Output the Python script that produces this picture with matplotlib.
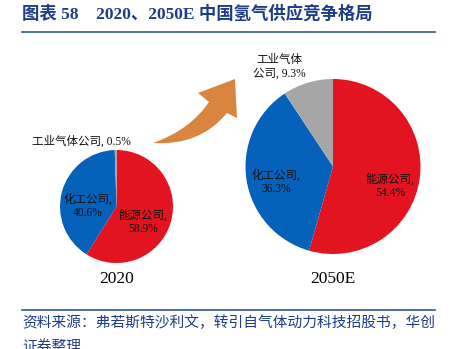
import numpy as np
import matplotlib.pyplot as plt
from matplotlib.path import Path
from matplotlib.patches import PathPatch

# -------------------------
# Datos (participacion % por tipo de empresa)
# -------------------------
categorias = ['能源公司', '化工公司', '工业气体公司']
shares_2020 = [58.9, 40.6, 0.5]
shares_2050 = [54.4, 36.3, 9.3]
anios = ['2020', '2050E']

colores = ['#E3131F', '#0561B9', '#A6A6A6']
titulo = '图表 58    2020、2050E 中国氢气供应竞争格局'
fuente = '资料来源：弗若斯特沙利文，转引自气体动力科技招股书，华创'
fuente2 = '证券整理'

W, H = 450, 349
azul = '#1F3C88'
fam = ['Liberation Serif', 'Noto Sans CJK SC']

def py(y):
    # coordenadas en pixeles con y hacia abajo
    return H - y

fig = plt.figure(figsize=(W / 100, H / 100), dpi=100)
ax = fig.add_axes([0, 0, 1, 1])

# tortas
ax.pie(shares_2020, colors=colores, startangle=90, counterclock=False,
       center=(116.5, py(206.5)), radius=56.5, wedgeprops=dict(linewidth=0))
ax.pie(shares_2050, colors=colores, startangle=90, counterclock=False,
       center=(333, py(166.5)), radius=87.5, wedgeprops=dict(linewidth=0))
ax.set_xlim(0, W)
ax.set_ylim(0, H)
ax.set_aspect('equal')
ax.axis('off')

# etiquetas 2020
lab = dict(fontsize=8.3, family=fam, color='#111111', ha='center', va='center', linespacing=1.2)
ax.text(81, py(142), f'{categorias[2]}, {shares_2020[2]}%', **lab)
ax.text(88, py(206), f'{categorias[1]},\n{shares_2020[1]}%', **lab)
ax.text(143, py(222), f'{categorias[0]},\n{shares_2020[0]}%', **lab)

# etiquetas 2050E
ax.text(279, py(67), f'工业气体\n公司, {shares_2050[2]}%', **lab)
ax.text(276, py(182), f'{categorias[1]},\n{shares_2050[1]}%', **lab)
ax.text(390, py(186), f'{categorias[0]},\n{shares_2050[0]}%', **lab)

# años
ax.text(117, py(279), anios[0], fontsize=12.5, family=fam, ha='center', va='center')
ax.text(333, py(279), anios[1], fontsize=12.5, family=fam, ha='center', va='center')

# flecha curva naranja
pts = [(235, 79), (198, 93), (209, 102), (190, 130), (153, 143),
       (200, 146), (227, 113), (237, 118), (235, 79)]
codes = [Path.MOVETO, Path.LINETO, Path.LINETO, Path.CURVE3, Path.CURVE3,
         Path.CURVE3, Path.CURVE3, Path.LINETO, Path.CLOSEPOLY]
verts = [(x, py(y)) for x, y in pts]
ax.add_patch(PathPatch(Path(verts, codes), facecolor='#D9843F', edgecolor='none'))

# titulo y lineas
ax.text(22, py(14), titulo, fontsize=12.5, fontweight='bold', family=fam,
        color=azul, ha='left', va='center')
ax.plot([22, 435], [py(32), py(32)], color='#2F5597', linewidth=1.2)
ax.plot([22, 435], [py(310), py(310)], color='#2F5597', linewidth=1.2)

# fuente
ax.text(22, py(323), fuente, fontsize=10.6, family=fam, style='italic',
        color=azul, ha='left', va='center')
ax.text(22, py(347), fuente2, fontsize=10.6, family=fam, style='italic',
        color=azul, ha='left', va='center')

fig.savefig('out.png', dpi=100)
